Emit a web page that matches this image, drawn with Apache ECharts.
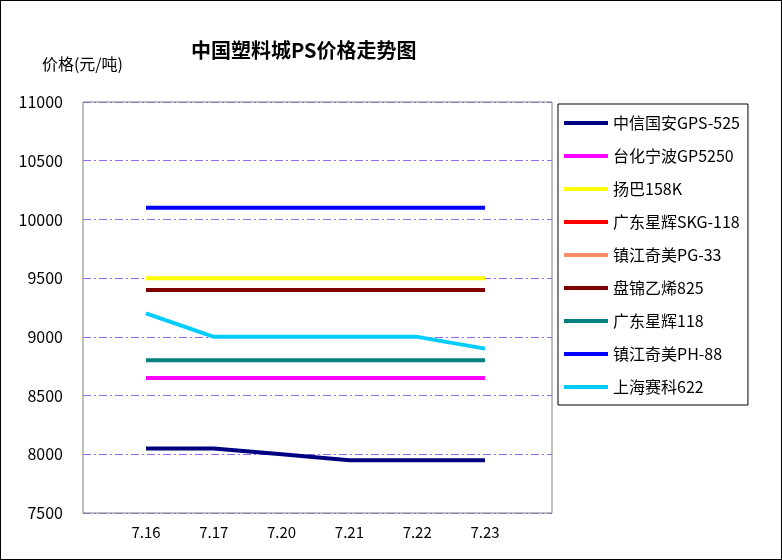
<!DOCTYPE html>
<html><head><meta charset="utf-8">
<script src="https://cdn.jsdelivr.net/npm/echarts@6/dist/echarts.min.js"></script>
<style>body{margin:0}#c{width:780px;height:558px;border:1px solid #000}</style>
</head><body><div id="c"></div>
<script>
var categories = ['7.16', '7.17', '7.20', '7.21', '7.22', '7.23']
var names = ['中信国安GPS-525', '台化宁波GP5250', '扬巴158K', '广东星辉SKG-118', '镇江奇美PG-33', '盘锦乙烯825', '广东星辉118', '镇江奇美PH-88', '上海赛科622']
var colors = ['#000080', '#ff00ff', '#ffff00', '#ff0000', '#ff8c69', '#800000', '#008080', '#0000ff', '#00ccff']
var citic = [8050, 8050, 8000, 7950, 7950, 7950]
var ningbo = [8650, 8650, 8650, 8650, 8650, 8650]
var yangba = [9500, 9500, 9500, 9500, 9500, 9500]
var xinghuiSkg = [9400, 9400, 9400, 9400, 9400, 9400]
var qimeiPg = [9400, 9400, 9400, 9400, 9400, 9400]
var panjin = [9400, 9400, 9400, 9400, 9400, 9400]
var xinghui118 = [8800, 8800, 8800, 8800, 8800, 8800]
var qimeiPh = [10100, 10100, 10100, 10100, 10100, 10100]
var secco = [9200, 9000, 9000, 9000, 9000, 8900]
var values = [citic, ningbo, yangba, xinghuiSkg, qimeiPg, panjin, xinghui118, qimeiPh, secco]

var font = 'SimSun, "Noto Sans CJK SC", serif'
var chart = echarts.init(document.getElementById('c'))
chart.setOption({
  animation: false,
  title: { text: '中国塑料城PS价格走势图', left: 185, top: 34, textStyle: { fontFamily: font, fontSize: 20, fontWeight: 'bold', color: '#000' } },
  graphic: [{ type: 'rect', z: 10, shape: { x: 82, y: 101, width: 469, height: 411 }, style: { fill: 'none', stroke: '#808080', lineWidth: 1 } }],
  grid: [
    { left: 82, top: 101, width: 469, height: 411 },
    { left: 145, top: 101, width: 339, height: 411 }
  ],
  legend: {
    orient: 'vertical', left: 557, top: 103, width: 214, height: 321,
    padding: [11, 8, 10, 6], itemGap: 17, itemWidth: 44, itemHeight: 4,
    borderColor: '#000', borderWidth: 1, icon: 'rect',
    textStyle: { fontFamily: font, fontSize: 16, color: '#000' },
    data: names
  },
  xAxis: [
    { type: 'category', gridIndex: 0, data: categories, show: false },
    {
      type: 'category', gridIndex: 1, data: categories, boundaryGap: false,
      axisLine: { show: false }, axisTick: { show: false },
      axisLabel: { fontFamily: font, fontSize: 15, color: '#000', margin: 12 }
    }
  ],
  yAxis: [
    {
      type: 'value', gridIndex: 0, min: 7500, max: 11000, interval: 500,
      name: '价格(元/吨)', nameLocation: 'end', nameGap: 30,
      nameTextStyle: { fontFamily: font, fontSize: 16, color: '#000', align: 'right', padding: [0, -40, 0, 0] },
      axisLine: { show: false }, axisTick: { show: false },
      axisLabel: { fontFamily: font, fontSize: 16, color: '#000', margin: 20, formatter: function (v) { return String(v) } },
      splitLine: { lineStyle: { color: '#9966ff', type: [8, 3, 2, 3], width: 1 } }
    },
    { type: 'value', gridIndex: 1, min: 7500, max: 11000, interval: 500, show: false, splitLine: { show: false } }
  ],
  series: names.map(function (n, i) {
    return { name: n, type: 'line', xAxisIndex: 1, yAxisIndex: 1, data: values[i], symbol: 'none', color: colors[i], lineStyle: { width: 4 } }
  })
})
</script></body></html>
